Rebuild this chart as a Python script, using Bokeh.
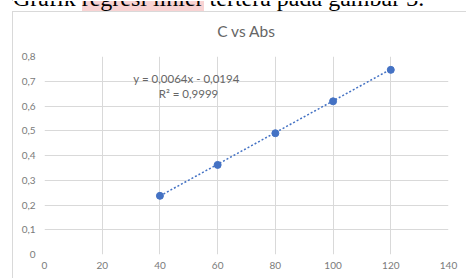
from bokeh.plotting import figure
from bokeh.layouts import column
from bokeh.models import Range1d, FixedTicker, CustomJSTickFormatter, Label, Div
from bokeh.embed import file_html
from bokeh.resources import INLINE

# ---- data ----
conc = [40, 60, 80, 100, 120]
absorbance = [0.237, 0.362, 0.490, 0.619, 0.746]
slope = 0.0064
intercept = -0.0194
x_ticks = [0, 20, 40, 60, 80, 100, 120, 140]
y_ticks = [0, 0.1, 0.2, 0.3, 0.4, 0.5, 0.6, 0.7, 0.8]
chart_title = "C vs Abs"
eq_text = "y = 0,0064x - 0,0194"
r2_text = "R² = 0,9999"
header_parts = ["Grafik ", "regresi linier", " tertera pada gambar 3."]

BLUE = "#4472C4"
GRID = "#d9d9d9"
LABEL = "#7a7a7a"
FONT = "Lato"

header_html = (
    '<div style="position:relative;width:466px;height:11px;overflow:hidden;">'
    '<div style="position:absolute;left:0;top:0;width:466px;height:10px;background:white;"></div>'
    '<div style="position:absolute;left:13px;top:-15px;font-family:\'Liberation Serif\';'
    'font-size:24px;line-height:24px;white-space:nowrap;color:black;">'
    + header_parts[0]
    + '<span style="background:#f8d3d3;">' + header_parts[1] + '</span>'
    + header_parts[2] + '</div>'
    '<div style="position:absolute;left:12px;top:10px;width:460px;height:1px;background:#d9d9d9;"></div>'
    '</div>')
header = Div(text=header_html, width=466, height=11, margin=0,
             styles={"position": "absolute", "top": "0px", "left": "0px",
                     "margin": "0px", "padding": "0px", "pointer-events": "none"})

p = figure(width=453, height=278, output_backend="svg", toolbar_location=None,
           x_range=Range1d(0, 140), y_range=Range1d(0, 0.8),
           min_border_left=31, min_border_right=18, min_border_top=56, min_border_bottom=24,
           background_fill_color="white", border_fill_color="white",
           title=chart_title)
p.styles = {"margin-left": "12px", "border-left": "1px solid #d9d9d9"}
p.outline_line_color = None
p.title.align = "center"
p.title.text_font = FONT
p.title.text_font_size = "15.5px"
p.title.text_font_style = "normal"
p.title.text_color = "#666666"
p.title.standoff = 34

p.xaxis.ticker = FixedTicker(ticks=x_ticks)
p.yaxis.ticker = FixedTicker(ticks=y_ticks)
p.yaxis.formatter = CustomJSTickFormatter(code="return tick === 0 ? '0' : tick.toFixed(1).replace('.', ',');")
for ax in (p.xaxis, p.yaxis):
    ax.axis_line_color = None
    ax.major_tick_line_color = None
    ax.minor_tick_line_color = None
    ax.major_tick_out = 0
    ax.major_label_text_color = LABEL
    ax.major_label_text_font = FONT
    ax.major_label_text_font_size = "10px"
p.yaxis.major_label_standoff = 9
p.xaxis.major_label_standoff = 7
p.xgrid.grid_line_color = GRID
p.ygrid.grid_line_color = GRID

# trendline over the data span
tx = [min(conc), max(conc)]
ty = [slope * v + intercept for v in tx]
p.line(tx, ty, line_color=BLUE, line_width=1.5, line_dash="2 2")
p.scatter(conc, absorbance, size=7, fill_color=BLUE, line_color=BLUE)

p.add_layout(Label(x=172, y=78, x_units="canvas", y_units="canvas", text=eq_text,
                   text_font=FONT, text_font_size="11.5px", text_color="#666666",
                   text_baseline="middle", text_align="center"))
p.add_layout(Label(x=174, y=93, x_units="canvas", y_units="canvas", text=r2_text,
                   text_font=FONT, text_font_size="11.5px", text_color="#666666",
                   text_baseline="middle", text_align="center"))

layout = column(p, header)
open("out.html", "w").write(file_html(layout, INLINE))
